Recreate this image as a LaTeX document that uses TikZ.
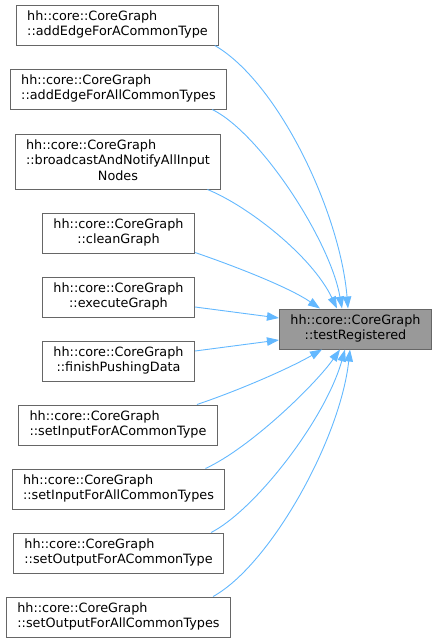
\documentclass[tikz,border=0pt]{standalone}
\usepackage{fontspec}
\setmainfont{DejaVu Sans}
\usetikzlibrary{arrows.meta}
\definecolor{edgeblue}{HTML}{63B8FF}
\definecolor{boxborder}{HTML}{666666}
\definecolor{rootfill}{HTML}{999999}
\newcommand{\twolbl}[2]{\begin{tabular}{@{}l@{}}#1\\\multicolumn{1}{@{}c@{}}{#2}\end{tabular}}
\newcommand{\threelbl}[3]{\begin{tabular}{@{}l@{}}#1\\#2\\\multicolumn{1}{@{}c@{}}{#3}\end{tabular}}
\begin{document}
\begin{tikzpicture}[x=1pt,y=-1pt,
  fnbox/.style={draw=boxborder,fill=white,line width=1pt,inner xsep=11pt,inner ysep=0pt,
    minimum height=40pt,font=\fontsize{12.8}{15.5}\selectfont},
  rootbox/.style={fnbox,fill=rootfill},
  calledge/.style={draw=edgeblue,line width=0.9pt,-{Triangle[length=12pt,width=8.5pt]}}]
\useasboundingbox (0,0) rectangle (436,643);
\renewcommand{\arraystretch}{1}
\node[fnbox] (n1) at (117.5,25) {\twolbl{hh::core::CoreGraph}{::addEdgeForACommonType}};
\node[fnbox] (n2) at (118.5,89) {\twolbl{hh::core::CoreGraph}{::addEdgeForAllCommonTypes}};
\node[fnbox,minimum height=55pt] (n3) at (118,161.5) {\threelbl{hh::core::CoreGraph}{::broadcastAndNotifyAllInput}{Nodes}};
\node[fnbox] (n4) at (118.5,233) {\twolbl{hh::core::CoreGraph}{::cleanGraph}};
\node[fnbox] (n5) at (118.5,297) {\twolbl{hh::core::CoreGraph}{::executeGraph}};
\node[fnbox] (n6) at (118.5,361) {\twolbl{hh::core::CoreGraph}{::finishPushingData}};
\node[fnbox] (n7) at (118,425) {\twolbl{hh::core::CoreGraph}{::setInputForACommonType}};
\node[fnbox] (n8) at (118.5,489) {\twolbl{hh::core::CoreGraph}{::setInputForAllCommonTypes}};
\node[fnbox] (n9) at (118.5,553) {\twolbl{hh::core::CoreGraph}{::setOutputForACommonType}};
\node[fnbox] (n10) at (118.5,617) {\twolbl{hh::core::CoreGraph}{::setOutputForAllCommonTypes}};
\node[rootbox] (t) at (355.5,329) {\twolbl{hh::core::CoreGraph}{::testRegistered}};
% edges
\draw[calledge] ([xshift=-4.5pt]n1.south east) .. controls (278,82) and (340,212) .. ([xshift=-7.5pt]t.north);
\draw[calledge] ([xshift=-15pt]n2.south east) .. controls (260,133) and (330,240) .. ([xshift=-13.5pt]t.north);
\draw[calledge] ([xshift=-14pt]n3.south east) .. controls (248,206) and (312,256) .. ([xshift=-18.5pt]t.north);
\draw[calledge] ([yshift=1pt]n4.south east) .. controls (240,268) and (290,288) .. ([xshift=-35.5pt]t.north);
\draw[calledge] ([yshift=-10pt]n5.east) -- ([yshift=11pt]t.west);
\draw[calledge] ([yshift=10pt]n6.east) -- ([yshift=-11pt]t.west);
\draw[calledge] ([xshift=-21pt]n7.north east) .. controls (240,390) and (290,368) .. ([xshift=-33.5pt]t.south);
\draw[calledge] ([xshift=-20pt]n8.north east) .. controls (250,448) and (315,385) .. ([xshift=-15.5pt]t.south);
\draw[calledge] ([xshift=-13pt]n9.north east) .. controls (255,510) and (325,420) .. ([xshift=-10.5pt]t.south);
\draw[calledge] ([xshift=-18pt]n10.north east) .. controls (270,565) and (340,440) .. ([xshift=-5.5pt]t.south);
\end{tikzpicture}
\end{document}
